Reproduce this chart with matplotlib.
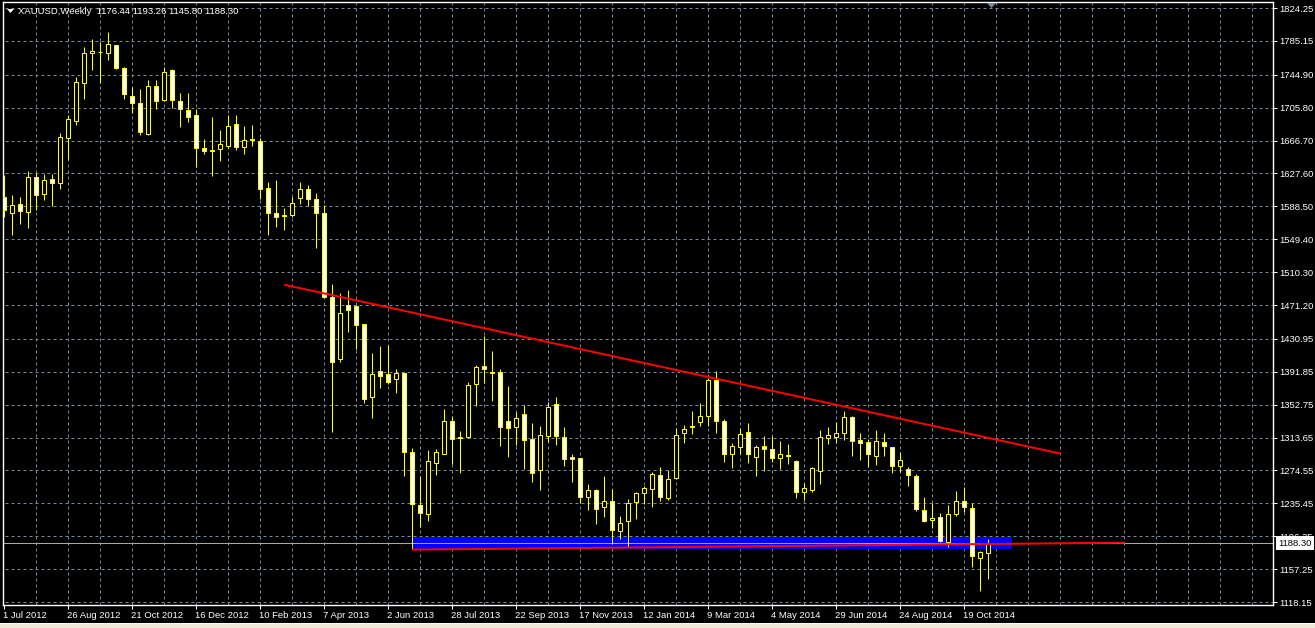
import matplotlib
matplotlib.use("Agg")
import matplotlib.pyplot as plt
import matplotlib.transforms as mtransforms
from matplotlib.patches import Rectangle, Polygon

plt.rcParams['font.family'] = ['Liberation Sans', 'DejaVu Sans']

########## DATA ############
# weekly XAUUSD candles, first bar = week of 1 Jul 2012
opens = [1600.0, 1581.0, 1591.3, 1582.2, 1623.0, 1602.8, 1620.6, 1615.8, 1669.3, 1690.3,
         1734.7, 1770.4, 1771.6, 1770.4, 1779.9, 1752.5, 1720.0, 1710.9, 1674.9, 1731.5,
         1714.5, 1750.2, 1713.3, 1702.6, 1696.7, 1657.8, 1655.5, 1656.3, 1660.6, 1686.0,
         1658.6, 1668.5, 1665.8, 1609.9, 1580.2, 1578.2, 1578.6, 1598.0, 1608.7, 1596.8,
         1580.2, 1480.3, 1407.4, 1470.8, 1470.0, 1448.2, 1362.2, 1393.2, 1388.8, 1382.9,
         1390.0, 1296.1, 1233.5, 1222.4, 1283.8, 1294.5, 1332.9, 1313.9, 1313.9, 1376.9,
         1398.3, 1392.0, 1391.2, 1332.9, 1325.8, 1341.2, 1311.5, 1275.1, 1315.1, 1353.1,
         1313.9, 1290.5, 1288.9, 1242.6, 1251.3, 1230.7, 1237.8, 1202.2, 1214.1, 1236.6,
         1247.3, 1252.1, 1269.1, 1242.2, 1265.2, 1318.7, 1327.0, 1331.7, 1339.7, 1382.1,
         1332.9, 1293.7, 1302.8, 1319.9, 1290.1, 1303.2, 1299.6, 1288.9, 1292.9, 1285.4,
         1248.5, 1251.3, 1274.3, 1312.7, 1314.7, 1319.4, 1338.1, 1310.3, 1308.4, 1292.1,
         1308.4, 1302.0, 1280.2, 1275.9, 1267.5, 1227.5, 1215.2, 1219.6, 1189.5, 1223.2,
         1237.8, 1229.9, 1170.1, 1176.44]
highs = [1625.7, 1602.0, 1600.0, 1630.5, 1627.7, 1626.9, 1626.5, 1676.1, 1697.1, 1741.8,
         1777.9, 1787.0, 1784.2, 1795.3, 1780.7, 1753.7, 1729.9, 1728.0, 1738.7, 1738.7,
         1753.7, 1751.3, 1722.8, 1722.8, 1704.2, 1668.1, 1694.7, 1679.2, 1696.7, 1696.7,
         1684.0, 1684.8, 1669.3, 1617.8, 1619.8, 1586.1, 1599.2, 1617.4, 1613.9, 1604.3,
         1590.1, 1496.2, 1485.1, 1489.0, 1470.8, 1449.0, 1413.8, 1422.9, 1423.7, 1395.1,
         1392.0, 1301.2, 1268.3, 1298.9, 1299.6, 1347.6, 1338.9, 1321.4, 1379.3, 1399.9,
         1434.4, 1416.5, 1395.1, 1374.9, 1344.0, 1351.9, 1330.9, 1327.4, 1355.9, 1361.5,
         1326.2, 1293.7, 1289.5, 1258.4, 1252.1, 1267.9, 1252.5, 1220.4, 1240.6, 1249.3,
         1256.1, 1273.1, 1278.6, 1275.5, 1324.6, 1328.6, 1345.2, 1354.7, 1384.8, 1392.8,
         1335.3, 1307.6, 1325.0, 1330.9, 1304.8, 1315.5, 1315.5, 1309.5, 1306.0, 1286.6,
         1259.2, 1278.2, 1322.6, 1326.6, 1332.5, 1345.2, 1339.3, 1319.4, 1311.5, 1322.6,
         1319.4, 1302.8, 1296.5, 1278.2, 1269.9, 1243.4, 1235.4, 1223.6, 1233.5, 1250.1,
         1254.9, 1235.4, 1178.8, 1193.26]
lows = [1576.2, 1554.4, 1567.5, 1563.1, 1584.1, 1596.0, 1589.3, 1609.1, 1644.4, 1685.2,
        1715.7, 1750.6, 1735.5, 1762.4, 1752.1, 1715.7, 1699.0, 1673.3, 1673.3, 1704.6,
        1714.1, 1705.8, 1683.2, 1689.1, 1635.6, 1650.7, 1625.0, 1642.8, 1657.4, 1655.5,
        1651.1, 1660.6, 1597.2, 1554.4, 1564.3, 1560.4, 1575.4, 1591.3, 1589.3, 1539.4,
        1479.5, 1320.6, 1403.9, 1439.5, 1418.9, 1355.1, 1336.5, 1372.9, 1376.9, 1367.0,
        1268.3, 1180.8, 1207.7, 1214.9, 1269.5, 1294.1, 1282.2, 1271.9, 1313.5, 1351.2,
        1378.9, 1357.5, 1304.0, 1290.9, 1305.2, 1276.7, 1261.2, 1251.7, 1308.8, 1305.2,
        1280.2, 1261.2, 1236.2, 1227.1, 1211.3, 1219.6, 1187.1, 1192.7, 1183.5, 1216.4,
        1234.3, 1231.5, 1238.2, 1239.4, 1264.8, 1307.6, 1317.9, 1327.4, 1327.8, 1319.5,
        1285.0, 1277.9, 1293.7, 1283.8, 1268.3, 1274.3, 1285.0, 1276.7, 1282.2, 1242.2,
        1239.8, 1249.3, 1258.8, 1305.6, 1307.6, 1310.7, 1291.7, 1287.0, 1279.0, 1281.0,
        1291.7, 1271.5, 1273.1, 1256.0, 1226.7, 1213.6, 1206.5, 1189.9, 1183.1, 1220.8,
        1224.7, 1159.8, 1131.6, 1145.80]
closes = [1584.1, 1590.1, 1583.3, 1623.0, 1602.0, 1619.8, 1615.8, 1671.3, 1692.3, 1735.9,
          1770.4, 1772.7, 1771.6, 1781.5, 1753.3, 1721.6, 1710.9, 1677.3, 1731.1, 1713.3,
          1747.8, 1714.5, 1703.8, 1695.1, 1657.4, 1654.7, 1654.7, 1662.6, 1683.6, 1658.6,
          1667.0, 1667.0, 1609.5, 1581.0, 1575.4, 1577.4, 1592.1, 1609.1, 1596.8, 1580.2,
          1481.1, 1403.1, 1461.3, 1465.3, 1447.8, 1359.1, 1388.8, 1387.2, 1380.1, 1390.0,
          1296.1, 1234.7, 1223.6, 1285.4, 1296.1, 1332.9, 1311.5, 1313.1, 1375.7, 1397.1,
          1394.7, 1390.0, 1325.8, 1324.6, 1336.5, 1310.3, 1271.1, 1316.3, 1349.6, 1315.1,
          1287.8, 1287.8, 1242.6, 1251.3, 1228.3, 1238.2, 1203.4, 1211.7, 1235.5, 1247.7,
          1253.3, 1270.3, 1243.4, 1264.8, 1316.3, 1323.4, 1326.2, 1338.9, 1382.1, 1333.7,
          1294.5, 1303.2, 1317.5, 1294.5, 1302.4, 1300.0, 1288.9, 1293.7, 1292.1, 1249.3,
          1253.3, 1277.1, 1314.3, 1317.1, 1318.7, 1337.7, 1309.9, 1306.8, 1293.7, 1309.5,
          1304.0, 1280.2, 1286.6, 1268.7, 1229.1, 1214.8, 1218.4, 1190.7, 1222.4, 1237.8,
          1230.7, 1172.4, 1177.2, 1188.30]

dateLabels = ["1 Jul 2012", "26 Aug 2012", "21 Oct 2012", "16 Dec 2012", "10 Feb 2013",
              "7 Apr 2013", "2 Jun 2013", "28 Jul 2013", "22 Sep 2013", "17 Nov 2013",
              "12 Jan 2014", "9 Mar 2014", "4 May 2014", "29 Jun 2014", "24 Aug 2014",
              "19 Oct 2014"]
priceLevels = [1824.25, 1785.15, 1744.90, 1705.80, 1666.70, 1627.60, 1588.50, 1549.40,
               1510.30, 1471.20, 1430.95, 1391.85, 1352.75, 1313.65, 1274.55, 1235.45,
               1196.35, 1157.25, 1118.15]

# drawn objects (bar index, price)
resistanceLine = [(35, 1495.4), (132.1, 1294.5)]
supportLine = [(51, 1180.4), (140.1, 1188.7)]
zoneBars = (51, 126)
zonePrices = (1180.6, 1195.2)
lastPrice = 1188.30
titleText = "XAUUSD,Weekly  1176.44 1193.26 1145.80 1188.30"
#######################

W, H = 1315, 628
px = 0.72  # one pixel in points
gridColor = '#778899'
candleColor = '#ffff00'
fontsz = 6.8

fig = plt.figure(figsize=(W / 100, H / 100), dpi=100, facecolor='black')
# chart area in pixels: x 3..1273, y 2..605
ax = fig.add_axes([3 / W, (H - 605) / H, (1273 - 3) / W, (605 - 2) / H])
ax.set_facecolor('black')
ax.set_xlim(-0.125, 158.625)
ax.set_ylim(1114.6, 1831.4)

for sp in ax.spines.values():
    sp.set_color('white')
    sp.set_linewidth(1.0)

# grid
nbars = len(opens)
ax.hlines(priceLevels, -1, 160, colors=gridColor, linewidth=px, linestyles=(0, (3, 3)), zorder=1)
ax.vlines(range(4, 159, 4), 1100, 1850, colors=gridColor, linewidth=px, linestyles=(0, (3, 3)), zorder=1)

# zone + last price line
ax.add_patch(Rectangle((zoneBars[0], zonePrices[0]), zoneBars[1] - zoneBars[0],
                       zonePrices[1] - zonePrices[0], facecolor='#0000ff', edgecolor='none', zorder=2))
ax.axhline(lastPrice, color='#a8a8a8', linewidth=px, zorder=2.5)

# candles
xs = list(range(nbars))
ax.vlines(xs, lows, highs, colors=candleColor, linewidth=px, zorder=3)
for i in xs:
    o, c = opens[i], closes[i]
    if abs(c - o) < 0.6:
        ax.hlines(o, i - 0.3, i + 0.3, colors=candleColor, linewidth=px, zorder=4)
        continue
    face = 'black' if c > o else 'white'
    ax.bar(i, abs(c - o), bottom=min(o, c), width=0.55, facecolor=face,
           edgecolor=candleColor, linewidth=px, zorder=4)

# trend lines
ax.plot([p[0] for p in resistanceLine], [p[1] for p in resistanceLine], color='#ff0000',
        linewidth=2 * px, solid_capstyle='butt', zorder=6)
ax.plot([p[0] for p in supportLine], [p[1] for p in supportLine], color='#ff0000',
        linewidth=2 * px, solid_capstyle='butt', zorder=6)

# axes ticks
ax.yaxis.tick_right()
ax.set_yticks(priceLevels)
ax.set_yticklabels(['%.2f' % v for v in priceLevels])
ax.set_xticks(range(0, 8 * len(dateLabels), 8))
ax.set_xticklabels(dateLabels, ha='left')
ax.tick_params(axis='both', colors='white', labelcolor='white', labelsize=fontsz,
               direction='out', length=4 * px, width=px)
ax.tick_params(axis='y', pad=2 * px)
ax.tick_params(axis='x', pad=1.5 * px)
for lbl in ax.get_xticklabels():
    lbl.set_x(lbl.get_position()[0])
offset = mtransforms.ScaledTranslation(-1 / 100, 0, fig.dpi_scale_trans)
for lbl in ax.get_xticklabels():
    lbl.set_transform(lbl.get_transform() + offset)

# last price box
trans = mtransforms.blended_transform_factory(ax.transAxes, ax.transData)
ax.text(1.0 + 5 / 1270, lastPrice, '%.2f' % lastPrice, transform=trans, fontsize=fontsz,
        color='black', va='center', ha='left', zorder=10, clip_on=False,
        bbox=dict(boxstyle='square,pad=0.25', facecolor='white', edgecolor='none'))

# title
fig.patches.append(Polygon([[7 / W, 1 - 9 / H], [14 / W, 1 - 9 / H], [10.5 / W, 1 - 13 / H]],
                           closed=True, facecolor='white', edgecolor='none',
                           transform=fig.transFigure, figure=fig))
fig.text(18 / W, 1 - 11 / H, titleText, color='white', fontsize=fontsz, va='center', ha='left')

# chart shift marker
fig.patches.append(Polygon([[987 / W, 1 - 3 / H], [996 / W, 1 - 3 / H], [991.5 / W, 1 - 8 / H]],
                           closed=True, facecolor=gridColor, edgecolor='none',
                           transform=fig.transFigure, figure=fig))

# window bottom strip
fig.patches.append(Rectangle((0, 0), 1, 5 / H, facecolor='#ece9d8', edgecolor='none',
                             transform=fig.transFigure, figure=fig))
fig.patches.append(Rectangle((0, 4 / H), 1, 1.5 / H, facecolor='white', edgecolor='none',
                             transform=fig.transFigure, figure=fig))

fig.savefig('out.png', dpi=100, facecolor='black')
